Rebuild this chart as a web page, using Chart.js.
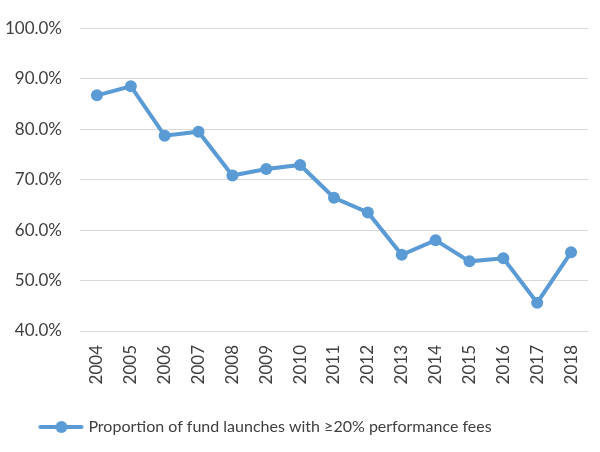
<!DOCTYPE html>
<html>
<head>
<meta charset="utf-8">
<script src="https://cdn.jsdelivr.net/npm/chart.js@4"></script>
<style>
html,body{margin:0;padding:0;background:#fff;}
#wrap{width:600px;height:452px;}
</style>
</head>
<body>
<div id="wrap"><canvas id="c" width="600" height="452"></canvas></div>
<script>
const years = ["2004","2005","2006","2007","2008","2009","2010","2011","2012","2013","2014","2015","2016","2017","2018"];
const proportion = [86.7, 88.5, 78.7, 79.5, 70.8, 72.1, 72.9, 66.4, 63.5, 55.1, 58.0, 53.8, 54.4, 45.6, 55.6];
const seriesName = "Proportion of fund launches with \u226520% performance fees";
const yTicks = [40, 50, 60, 70, 80, 90, 100];

const blue = "#5B9BD5";
const textColor = "#404040";
const fontFamily = "Lato, 'Open Sans', sans-serif";

// legend symbol: line with a circle
const sym = document.createElement('canvas');
sym.width = 52; sym.height = 14;
(function(){
  const g = sym.getContext('2d');
  g.strokeStyle = blue; g.lineWidth = 4; g.lineCap = 'round';
  g.beginPath(); g.moveTo(8,7); g.lineTo(49,7); g.stroke();
  g.fillStyle = blue; g.beginPath(); g.arc(29,7,6,0,Math.PI*2); g.fill();
})();

const shiftLegend = {
  id: 'shiftLegend',
  afterLayout(chart) {
    if (chart.legend) { chart.legend.left -= 30; chart.legend.right -= 30; }
  }
};

new Chart(document.getElementById('c'), {
  type: 'line',
  data: {
    labels: years,
    datasets: [{
      label: seriesName,
      data: proportion,
      borderColor: blue,
      backgroundColor: blue,
      borderWidth: 4,
      pointRadius: 6,
      pointHoverRadius: 6,
      pointBackgroundColor: blue,
      pointBorderColor: blue,
      pointBorderWidth: 0,
      tension: 0
    }]
  },
  plugins: [shiftLegend],
  options: {
    responsive: false,
    animation: false,
    layout: { padding: { left: 0, right: 12, top: 16, bottom: 7 } },
    plugins: {
      tooltip: { enabled: false },
      legend: {
        position: 'bottom',
        labels: {
          color: textColor,
          font: { family: fontFamily, size: 16 },
          usePointStyle: true,
          pointStyleWidth: 44,
          padding: 10,
          generateLabels: (chart) => [{
            text: seriesName,
            pointStyle: sym,
            fillStyle: blue,
            strokeStyle: blue,
            lineWidth: 0,
            fontColor: textColor,
            datasetIndex: 0
          }]
        }
      }
    },
    scales: {
      x: {
        offset: true,
        grid: { display: false },
        border: { display: false },
        afterFit: (axis) => { axis.height = 78; },
        ticks: {
          color: textColor,
          font: { family: fontFamily, size: 17 },
          minRotation: 90,
          maxRotation: 90,
          padding: 6
        }
      },
      y: {
        min: 40,
        max: 100,
        afterFit: (axis) => { axis.width = 80; },
        afterBuildTicks: (axis) => { axis.ticks = yTicks.map(v => ({ value: v })); },
        grid: { color: "#d9d9d9", lineWidth: 1, drawTicks: false },
        border: { display: false },
        ticks: {
          color: textColor,
          font: { family: fontFamily, size: 17 },
          padding: 18,
          callback: (v) => v.toFixed(1) + "%"
        }
      }
    }
  }
});
</script>
</body>
</html>
